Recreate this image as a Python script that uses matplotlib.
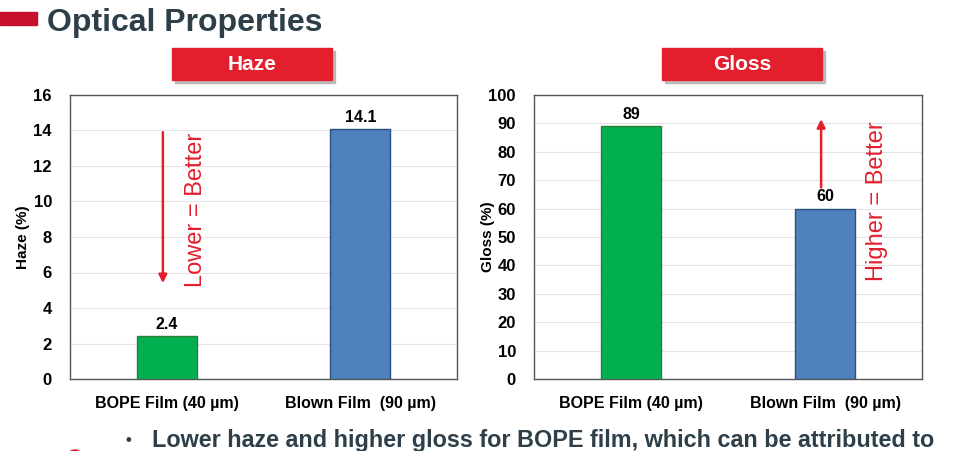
import numpy as np
import matplotlib.pyplot as plt
from matplotlib.patches import Rectangle, Ellipse

categories = ['BOPE Film (40 µm)', 'Blown Film  (90 µm)']
haze_values = [2.4, 14.1]
gloss_values = [89, 60]
haze_labels = ['2.4', '14.1']
gloss_labels = ['89', '60']
haze_ticks = [0, 2, 4, 6, 8, 10, 12, 14, 16]
gloss_ticks = [0, 10, 20, 30, 40, 50, 60, 70, 80, 90, 100]

BAR_COLORS = ['#00b050', '#4f81bd']
EDGE_COLORS = ['#2e7d32', '#2f4f7f']
RED = '#e31e2d'
SLATE = '#2e3f4a'

plt.rcParams['font.family'] = ['Liberation Sans', 'DejaVu Sans']

W, H = 959, 451
fig = plt.figure(figsize=(W / 100, H / 100), dpi=100)
fig.patch.set_facecolor('white')


def px_axes(x0, y0, x1, y1):
    return fig.add_axes([x0 / W, 1 - y1 / H, (x1 - x0) / W, (y1 - y0) / H])


def draw_panel(ax, values, labels, ticks, ylabel):
    x = np.arange(len(values))
    ax.bar(x, values, width=0.31, color=BAR_COLORS, edgecolor=EDGE_COLORS,
           linewidth=1.0, zorder=3)
    for xi, v, lab in zip(x, values, labels):
        ax.annotate(lab, (xi, v), xytext=(0, 3), textcoords='offset points',
                    ha='center', va='bottom', fontsize=11.5, fontweight='bold')
    ax.set_xlim(-0.5, 1.5)
    ax.set_ylim(ticks[0], ticks[-1])
    ax.set_yticks(ticks)
    ax.set_xticks(x)
    ax.set_xticklabels(categories, fontsize=11.5, fontweight='bold')
    ax.tick_params(axis='x', length=0, pad=12)
    ax.tick_params(axis='y', length=0, pad=13, labelsize=12)
    for t in ax.get_yticklabels():
        t.set_fontweight('bold')
    ax.grid(axis='y', color='#e4e4e4', linewidth=0.8, zorder=0)
    for s in ax.spines.values():
        s.set_color('#555555')
        s.set_linewidth(1.0)
    ax.set_ylabel(ylabel, fontsize=11, fontweight='bold', labelpad=2)


ax1 = px_axes(70, 95, 457, 379)
draw_panel(ax1, haze_values, haze_labels, haze_ticks, 'Haze (%)')
ax1.yaxis.set_label_coords(-0.104, 0.5)

ax2 = px_axes(534, 95, 922, 379)
draw_panel(ax2, gloss_values, gloss_labels, gloss_ticks, 'Gloss (%)')
ax2.yaxis.set_label_coords(-0.1, 0.5)

# direction arrows and notes
ax1.annotate('', xy=(-0.02, 5.4), xytext=(-0.02, 13.9),
             arrowprops=dict(arrowstyle='-|>', color=RED, lw=1.8,
                             mutation_scale=12, shrinkA=0, shrinkB=0))
ax1.text(0.15, 9.5, 'Lower = Better', rotation=90, color=RED, fontsize=17,
         ha='center', va='center')

ax2.annotate('', xy=(0.98, 91.5), xytext=(0.98, 67.5),
             arrowprops=dict(arrowstyle='-|>', color=RED, lw=1.8,
                             mutation_scale=12, shrinkA=0, shrinkB=0))
ax2.text(1.27, 62.5, 'Higher = Better', rotation=90, color=RED, fontsize=17,
         ha='center', va='center')

# title and decorations
fig.patches.append(Rectangle((0 / W, 1 - 25 / H), 37 / W, 13 / H,
                             transform=fig.transFigure, color='#c8102e',
                             zorder=2))
fig.text(47 / W, 1 - 23 / H, 'Optical Properties', fontsize=23,
         fontweight='bold', color=SLATE, va='center', ha='left')

for (x0, label) in [(172, 'Haze'), (662, 'Gloss')]:
    fig.patches.append(Rectangle(((x0 + 3) / W, 1 - 83 / H), 160 / W, 32 / H,
                                 transform=fig.transFigure, color='#9a9a9a',
                                 alpha=0.6, zorder=1))
    fig.patches.append(Rectangle((x0 / W, 1 - 80 / H), 160 / W, 32 / H,
                                 transform=fig.transFigure, color=RED,
                                 zorder=2))
    fig.text((x0 + 80) / W, 1 - 64 / H, label, fontsize=15, fontweight='bold',
             color='white', ha='center', va='center', zorder=3)

fig.patches.append(Ellipse((75 / W, 1 - 454 / H), 12 / W, 8 / H,
                           transform=fig.transFigure, color=RED, zorder=2))
fig.text(125 / W, 1 - 440 / H, '•', fontsize=12, color=SLATE,
         fontweight='bold', va='center', ha='left')
fig.text(152 / W, 1 - 440 / H,
         'Lower haze and higher gloss for BOPE film, which can be attributed to',
         fontsize=16.8, fontweight='bold', color=SLATE, va='center', ha='left')

fig.savefig('out.png', dpi=100, facecolor='white')
